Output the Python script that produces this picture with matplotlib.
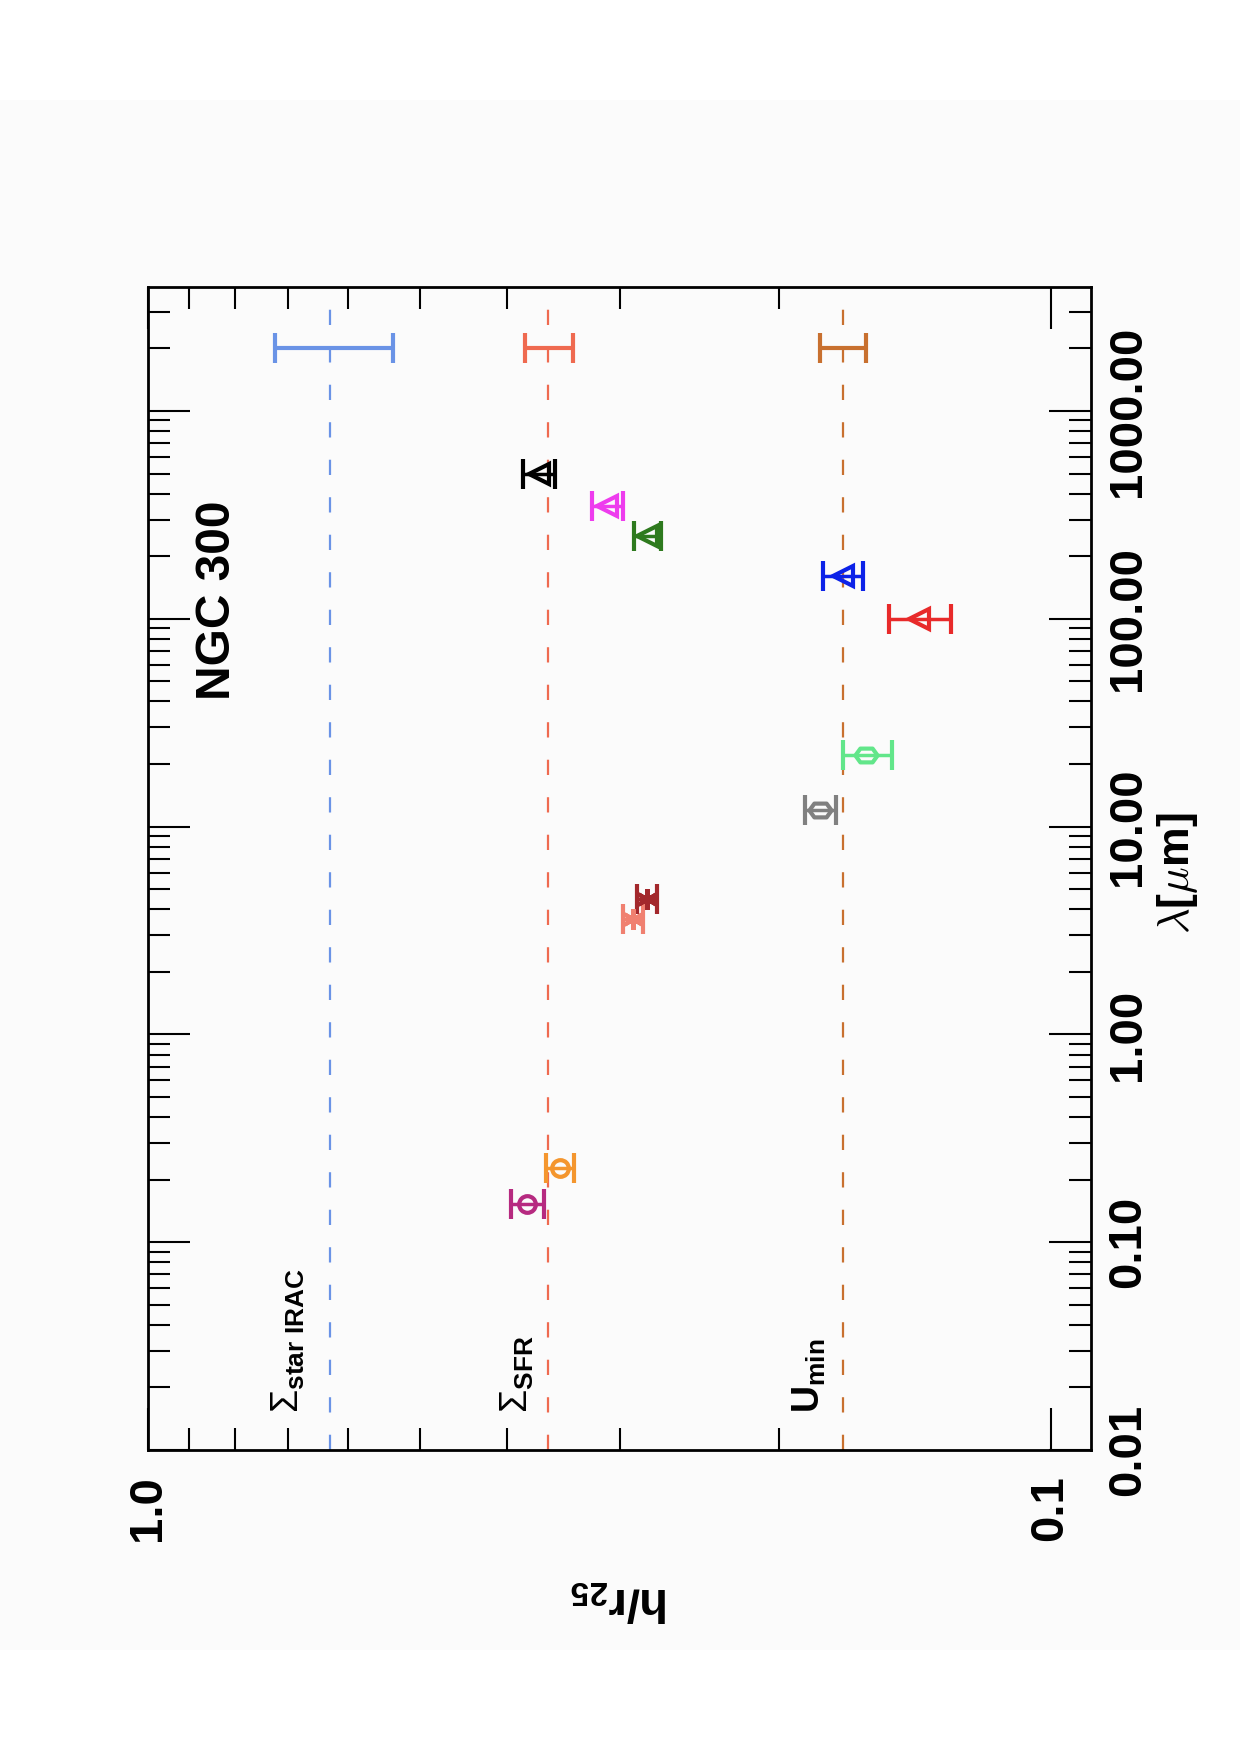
import numpy as np
import matplotlib
matplotlib.use('Agg')
import matplotlib.pyplot as plt
from matplotlib.patches import Rectangle
from matplotlib.ticker import LogLocator, FormatStrFormatter, NullFormatter

plt.rcParams['font.family'] = ['Liberation Sans', 'DejaVu Sans']
plt.rcParams['font.weight'] = 'bold'
plt.rcParams['mathtext.fontset'] = 'custom'
plt.rcParams['mathtext.rm'] = 'Liberation Sans:regular'
plt.rcParams['mathtext.bf'] = 'Liberation Sans:bold'
plt.rcParams['mathtext.it'] = 'Liberation Sans:italic'
plt.rcParams['lines.scale_dashes'] = False

# reference scale lengths (h/r25), shown as dashed lines + one error bar at 2000 um
ref_names = [r'$\Sigma_{\mathbf{star\ IRAC}}$', r'$\Sigma_{\mathbf{SFR}}$', r'$\mathbf{U}_{\mathbf{min}}$']
ref_val = [0.629, 0.360, 0.170]
ref_err = [0.094, 0.022, 0.010]
ref_colors = ['#6a93e6', '#ef6a50', '#c8702f']
ref_lam = 2000.
label_val = [0.680, 0.380, 0.180]
label_lam = 0.015

# per-band scale lengths
bands = ['FUV', 'NUV', 'IRAC3.6', 'IRAC4.5', 'W3', 'W4', 'PACS100', 'PACS160', 'SPIRE250', 'SPIRE350', 'SPIRE500']
lam = [0.152, 0.227, 3.6, 4.5, 12., 22., 100., 160., 250., 350., 500.]
hr = [0.380, 0.350, 0.290, 0.280, 0.180, 0.160, 0.140, 0.170, 0.280, 0.310, 0.369]
hr_err = [0.016, 0.0125, 0.0075, 0.007, 0.007, 0.010, 0.011, 0.0088, 0.0095, 0.0125, 0.015]
colors = ['#b62a80', '#f4962e', '#f08070', '#a3282c', '#808080', '#62e68a',
          '#e82a2a', '#0c22e8', '#2e7a1e', '#ee3cee', '#000000']
symbols = ['o', 'o', 'ast', 'ast', 'hex', 'hex', '<', '<', '<', '<', '<']

hexagon = [(-1, 0), (-0.55, 0.62), (0.55, 0.62), (1, 0), (0.55, -0.62), (-0.55, -0.62), (-1, 0)]
marker_map = {'o': ('o', 12), 'ast': ((6, 2, 0), 15), 'hex': (hexagon, 16), '<': ('<', 14)}

fig = plt.figure(figsize=(12.4, 17.55), dpi=100)
fig.patch.set_facecolor('white')
fig.add_artist(Rectangle((0, 0.0598), 1, 0.8832, transform=fig.transFigure,
                         facecolor='#fbfbfb', edgecolor='none', zorder=-10))

ax = fig.add_axes([0.11935, 0.17379, 0.76048, 0.66268])
ax.set_facecolor('#fbfbfb')
ax.set_xscale('log')
ax.set_yscale('log')
ax.set_xlim(1.0, 0.0902)
ax.set_ylim(0.01, 3950)

for v, e, c in zip(ref_val, ref_err, ref_colors):
    ax.axvline(v, color=c, lw=1.6, dashes=(11, 16), zorder=1)
    ax.errorbar([v], [ref_lam], xerr=[[e], [e]], fmt='none', ecolor=c,
                elinewidth=3, capsize=11, capthick=3, zorder=3)

for n, lv in zip(ref_names, label_val):
    ax.text(lv, label_lam, n, rotation=90, rotation_mode='anchor',
            ha='left', va='baseline', fontsize=27, color='black')

for i in range(len(lam)):
    m, ms = marker_map[symbols[i]]
    ax.errorbar([hr[i]], [lam[i]], xerr=[[hr_err[i]], [hr_err[i]]], fmt='none',
                ecolor=colors[i], elinewidth=2.5, capsize=11, capthick=3, zorder=4)
    ax.plot([hr[i]], [lam[i]], linestyle='none', marker=m, ms=ms, mew=3,
            mfc='none', mec=colors[i], zorder=5)

ax.xaxis.set_major_locator(LogLocator(base=10))
ax.xaxis.set_minor_locator(LogLocator(base=10, subs=np.arange(2, 10)))
ax.xaxis.set_major_formatter(FormatStrFormatter('%.1f'))
ax.xaxis.set_minor_formatter(NullFormatter())
ax.yaxis.set_major_locator(LogLocator(base=10))
ax.yaxis.set_minor_locator(LogLocator(base=10, subs=np.arange(2, 10)))
ax.yaxis.set_major_formatter(FormatStrFormatter('%.2f'))
ax.yaxis.set_minor_formatter(NullFormatter())

ax.tick_params(which='both', direction='in', top=True, bottom=True, left=True, right=True,
               labelleft=False, labelright=True, labeltop=False, labelbottom=True,
               width=1.5, labelsize=34)
ax.tick_params(which='major', length=30)
ax.tick_params(which='minor', length=16)
ax.tick_params(axis='x', labelrotation=90, pad=18)
ax.tick_params(axis='y', labelrotation=90, pad=11)
for lbl in ax.get_yticklabels():
    lbl.set_va('center')
for s in ax.spines.values():
    s.set_linewidth(2)

ax.set_xlabel(r'$\mathbf{h/r}_{\mathbf{25}}$', fontsize=34, rotation=180, va='center')
ax.xaxis.set_label_coords(0.5, -0.129)
ax.text(1.092, 0.496, r'$\lambda$[$\mu$m]', transform=ax.transAxes, rotation=90,
        ha='center', va='center', fontsize=32, math_fontfamily='cm')
ax.text(0.0742, 0.731, 'NGC 300', transform=ax.transAxes, rotation=90,
        ha='center', va='center', fontsize=34.5)

fig.savefig('out.png', dpi=100, facecolor=fig.get_facecolor())
